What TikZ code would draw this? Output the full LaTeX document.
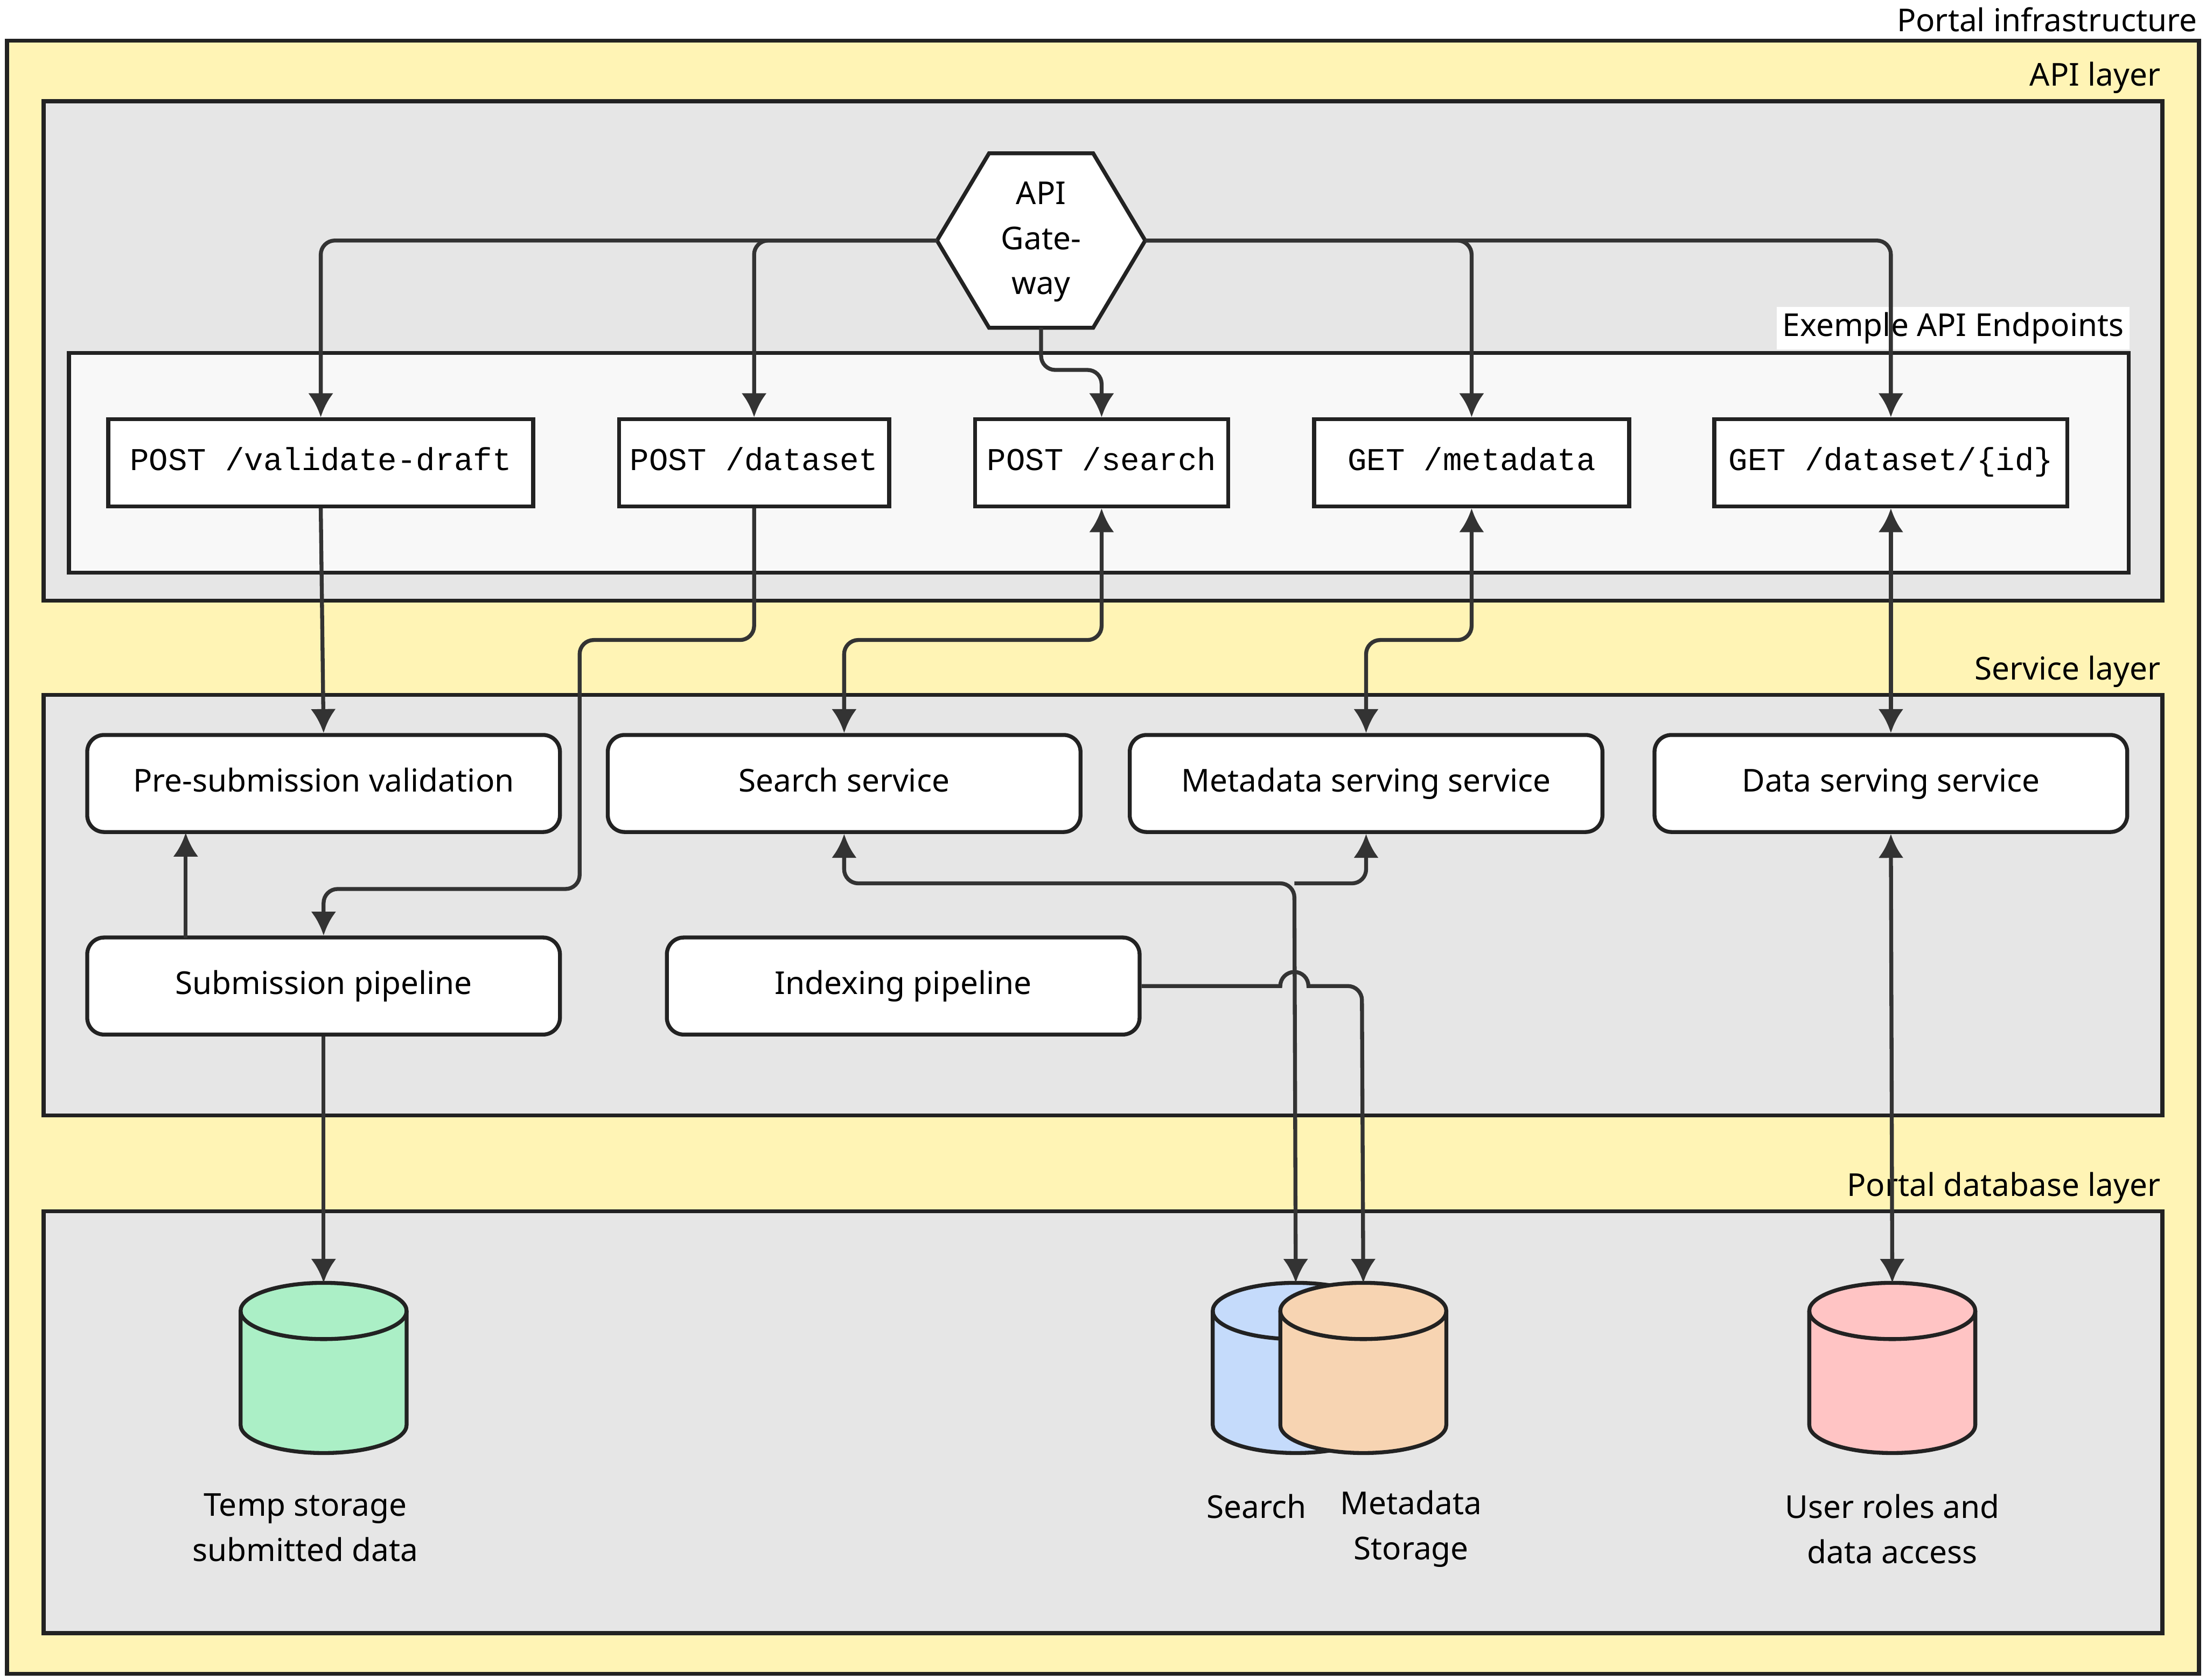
\documentclass[tikz,border=0pt]{standalone}
\usepackage{fontspec}
\setmainfont{Noto Sans}
\newfontfamily\monof{Liberation Mono}
\usetikzlibrary{arrows.meta}
\definecolor{yel}{HTML}{FFF4B5}
\definecolor{gry}{HTML}{E6E6E6}
\definecolor{lgry}{HTML}{F8F8F8}
\definecolor{ink}{HTML}{222222}
\definecolor{arr}{HTML}{333333}
\definecolor{cgreen}{HTML}{ABEFC6}
\definecolor{cblue}{HTML}{C5DBFB}
\definecolor{corange}{HTML}{F7D4B2}
\definecolor{cpink}{HTML}{FFC4C4}
\begin{document}
\begin{tikzpicture}[x=0.5pt,y=-0.5pt,
  font=\fontsize{11.2}{16}\selectfont,
  layer/.style={draw=ink,line width=1.4pt},
  lbl/.style={anchor=south east,inner sep=1pt},
  ep/.style={draw=ink,fill=white,line width=1.4pt,font=\monof\fontsize{11.3}{13}\selectfont,inner sep=0pt,minimum height=31pt,text height=8pt,text depth=2.5pt},
  svc/.style={draw=ink,fill=white,line width=1.4pt,rounded corners=6pt,minimum width=168pt,minimum height=34.5pt,inner sep=0pt,text height=8.5pt,text depth=2.5pt},
  con/.style={draw=arr,line width=1.4pt,rounded corners=5pt,-{Latex[length=8.5pt,width=9pt]}},
  bcon/.style={con,{Latex[length=8.5pt,width=9pt]}-{Latex[length=8.5pt,width=9pt]}},
  cyl/.style={draw=ink,line width=1.4pt}]
\useasboundingbox (0,0) rectangle (1568,1194);
% layers
\draw[layer,fill=yel] (5,29) rectangle (1563,1190);
\node[lbl] at (1564,25) {Portal infrastructure};
\draw[layer,fill=gry] (31,72) rectangle (1537,427);
\node[lbl] at (1538,69) {API layer};
\draw[layer,fill=lgry] (49,251) rectangle (1513,407);
\node[anchor=south east,fill=white,inner sep=2pt] at (1514,249) {Exemple API Endpoints};
\draw[layer,fill=gry] (31,494) rectangle (1537,793);
\node[lbl] at (1538,491) {Service layer};
\draw[layer,fill=gry] (31,861) rectangle (1537,1161);
\node[lbl] at (1538,858) {Portal database layer};
% gateway
\draw[layer,fill=white] (666,171) -- (703,109) -- (777,109) -- (814,171) -- (777,233) -- (703,233) -- cycle;
\node[align=center] (gw) at (740,172) {API\\Gate-\\way};
\coordinate (gwL) at (666,171);
\coordinate (gwR) at (814,171);
\coordinate (gwB) at (740,233);
% endpoints
\node[ep,minimum width=151pt] (e1) at (228,329) {POST /validate-draft};
\node[ep,minimum width=96pt] (e2) at (536,329) {POST /dataset};
\node[ep,minimum width=90pt] (e3) at (783,329) {POST /search};
\node[ep,minimum width=112pt] (e4) at (1046,329) {GET /metadata};
\node[ep,minimum width=125.5pt] (e5) at (1344,329) {GET /dataset/\{id\}};
% services
\node[svc] (s1) at (230,557) {Pre-submission validation};
\node[svc] (s2) at (600,557) {Search service};
\node[svc] (s3) at (971,557) {Metadata serving service};
\node[svc] (s4) at (1344,557) {Data serving service};
\node[svc] (p1) at (230,701) {Submission pipeline};
\node[svc] (p2) at (642,701) {Indexing pipeline};
% cylinders
\foreach \n/\cx/\col in {d1/230/cgreen,d2/921/cblue,d3/969/corange,d4/1345/cpink}{
  \fill[\col] (\cx-59,932) -- (\cx-59,1013) arc (180:360:29.5pt and 10pt) -- (\cx+59,932) arc (0:180:29.5pt and 10pt) -- cycle;
  \draw[cyl] (\cx-59,932) -- (\cx-59,1013) arc (180:360:29.5pt and 10pt) -- (\cx+59,932);
  \draw[cyl] (\cx,932) ellipse (29.5pt and 10pt);
  \coordinate (\n) at (\cx,912);
}
\node[align=center] at (217,1086) {Temp storage\\submitted data};
\node at (893,1071) {Search};
\node[align=center] at (1003,1087) {Metadata\\Storage};
\node[align=center] at (1345,1087) {User roles and\\data access};
% connectors
\draw[con] (gwL) -| (e1.north);
\draw[con] (gwL) -| (e2.north);
\draw[con] (gwR) -| (e4.north);
\draw[con] (gwR) -| (e5.north);
\draw[con] (gwB) |- (783,263) -- (e3.north);
\draw[con] (e1.south) -- (s1.north);
\draw[con] (e2.south) |- (412,455) |- (230,632) -- (p1.north);
\draw[bcon] (e3.south) |- (600,455) -- (s2.north);
\draw[bcon] (e4.south) |- (971,455) -- (s3.north);
\draw[bcon] (e5.south) -- (s4.north);
\draw[con] (132,667) -- (132,592);
\draw[con] (p1.south) -- (d1);
\draw[bcon] (s2.south) |- (920,628) -- (d2);
\draw[con,{Latex[length=8.5pt,width=9pt]}-] (s3.south) |- (920,628);
\draw[con,sharp corners] (p2.east) -- (910,701) arc (180:0:5pt) [rounded corners=5pt] -- (968,701) -- (d3);
\draw[bcon] (s4.south) -- (d4);
\end{tikzpicture}
\end{document}
